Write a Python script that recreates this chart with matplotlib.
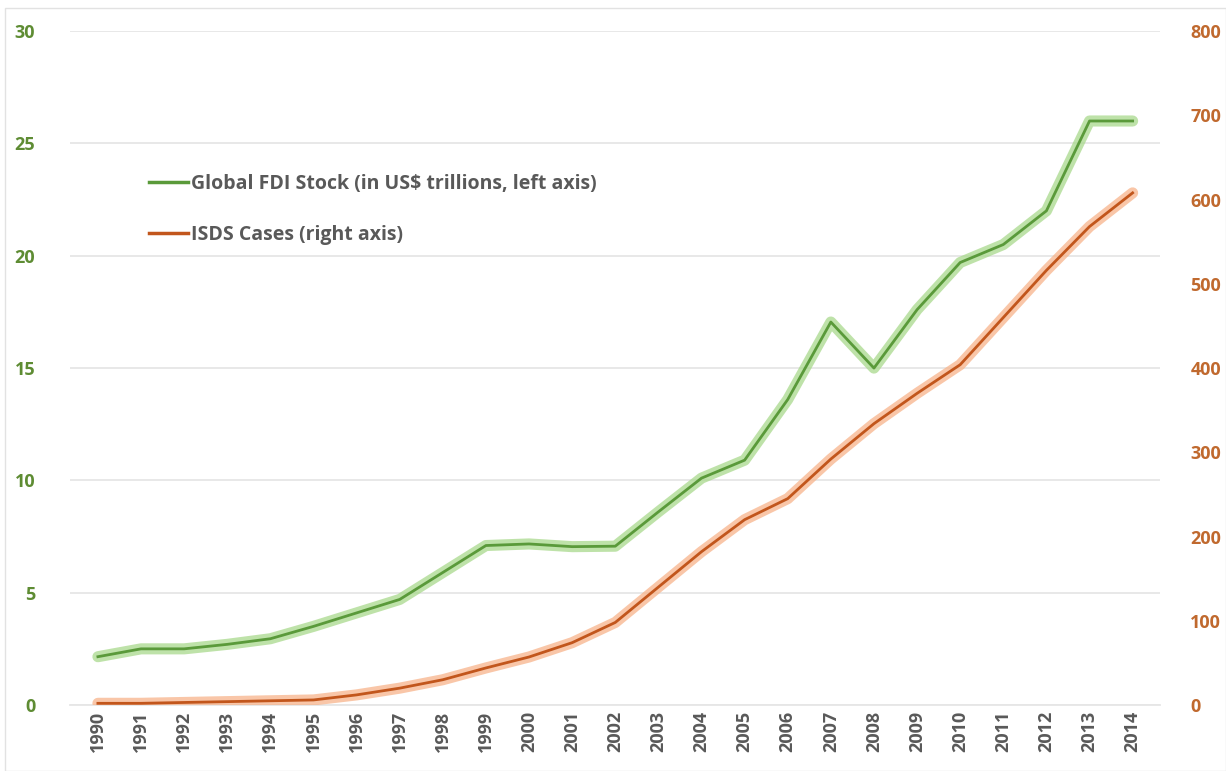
import matplotlib.pyplot as plt
from matplotlib.patches import Rectangle

years = list(range(1990, 2015))
fdi_stock = [2.15, 2.5, 2.5, 2.7, 2.95, 3.5, 4.1, 4.7, 5.9, 7.1,
             7.17, 7.05, 7.07, 8.6, 10.1, 10.9, 13.6, 17.05, 15.0, 17.6,
             19.7, 20.5, 22.0, 26.0, 26.0]
isds_cases = [2, 2, 3, 4, 5, 6, 12, 20, 30, 44,
              57, 74, 98, 140, 182, 220, 245, 292, 334, 370,
              404, 460, 516, 568, 608]

left_ticks = [0, 5, 10, 15, 20, 25, 30]
right_ticks = [0, 100, 200, 300, 400, 500, 600, 700, 800]

green_line = '#5a9a3a'
green_glow = '#a9d98c'
orange_line = '#c2561c'
orange_glow = '#f7b48b'
grey_text = '#595959'

plt.rcParams['font.family'] = ['Open Sans', 'DejaVu Sans']

fig = plt.figure(figsize=(12.26, 7.71), dpi=100)
fig.patches.append(Rectangle((0.004, 0.0), 0.996, 0.99, transform=fig.transFigure,
                             fill=False, edgecolor='#e2e2e2', linewidth=1))
ax = fig.add_axes([0.057, 0.0856, 0.889, 0.874])
ax2 = ax.twinx()

# glow underlay then the real line
ax.plot(years, fdi_stock, color=green_glow, lw=8, alpha=0.75, solid_capstyle='round', zorder=2)
ax.plot(years, fdi_stock, color=green_line, lw=2, zorder=3)
ax2.plot(years, isds_cases, color=orange_glow, lw=8, alpha=0.75, solid_capstyle='round', zorder=2)
ax2.plot(years, isds_cases, color=orange_line, lw=2, zorder=3)

ax.set_xlim(1989.35, 2014.63)
ax.set_ylim(0, 30)
ax2.set_ylim(0, 800)
ax.set_yticks(left_ticks)
ax2.set_yticks(right_ticks)
ax.set_xticks(years)
ax.set_xticklabels([str(y) for y in years], rotation=90, fontsize=13,
                   fontweight='bold', color=grey_text)
ax.tick_params(axis='x', length=0, pad=4)
ax.tick_params(axis='y', length=0, pad=25, labelsize=13, labelcolor='#5e8c33')
ax2.tick_params(axis='y', length=0, pad=22, labelsize=13, labelcolor='#c0692e')
for lab in ax.get_yticklabels() + ax2.get_yticklabels():
    lab.set_fontweight('bold')

ax.grid(axis='y', color='#e6e6e6', lw=1.3)
ax.set_axisbelow(True)
for a in (ax, ax2):
    for s in a.spines.values():
        s.set_visible(False)
ax.spines['bottom'].set_visible(True)
ax.spines['bottom'].set_color('#e6e6e6')
ax.spines['bottom'].set_linewidth(1.3)

h1, = ax.plot([], [], color=green_line, lw=2.5)
h2, = ax.plot([], [], color=orange_line, lw=2.5)
leg = ax.legend([h1, h2], ['Global FDI Stock (in US$ trillions, left axis)', 'ISDS Cases (right axis)'],
                loc='upper left', bbox_to_anchor=(0.073, 0.788), frameon=False,
                borderpad=0, borderaxespad=0, handlelength=2.0, handletextpad=0.15,
                labelspacing=1.6, prop={'size': 14, 'weight': 'bold'})
for t in leg.get_texts():
    t.set_color(grey_text)

fig.savefig('out.png', dpi=100)
